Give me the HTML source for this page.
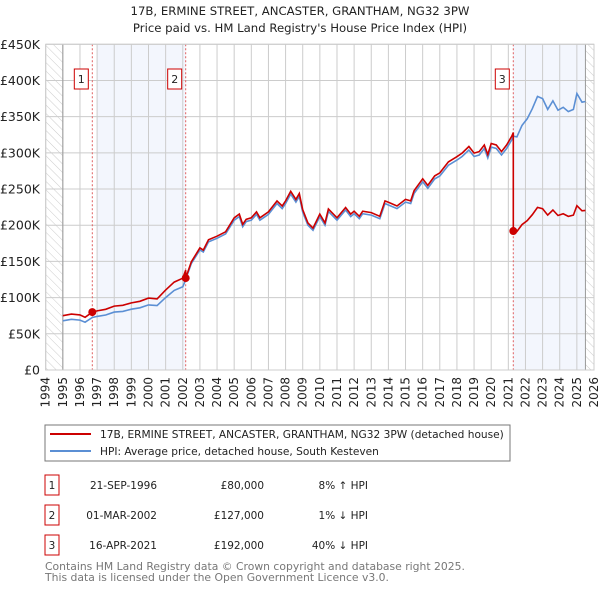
<!DOCTYPE html>
<html><head><meta charset="utf-8"><style>
body{margin:0;background:#fff;}
svg text{font-family:"DejaVu Sans","Liberation Sans",sans-serif;}
</style></head><body>
<svg id="c" width="600" height="590" xmlns="http://www.w3.org/2000/svg">
<defs><pattern id="hatch" width="6" height="6" patternUnits="userSpaceOnUse" patternTransform="rotate(-45)"><line x1="0" y1="0" x2="0" y2="6" stroke="#ccc" stroke-width="1"/></pattern></defs>
<text x="300" y="15" text-anchor="middle" font-size="11.7" fill="#222">17B, ERMINE STREET, ANCASTER, GRANTHAM, NG32 3PW</text>
<text x="300" y="32" text-anchor="middle" font-size="11.7" fill="#222">Price paid vs. HM Land Registry's House Price Index (HPI)</text>
<g id="plot"></g>
<rect x="45" y="425" width="465" height="36" fill="none" stroke="#777"/>
<line x1="50" y1="434" x2="91" y2="434" stroke="#cc0000" stroke-width="2"/>
<text x="100" y="438" font-size="10.6" fill="#222">17B, ERMINE STREET, ANCASTER, GRANTHAM, NG32 3PW (detached house)</text>
<line x1="50" y1="451" x2="91" y2="451" stroke="#5b8fd4" stroke-width="2"/>
<text x="100" y="455" font-size="10.6" fill="#222">HPI: Average price, detached house, South Kesteven</text>
<g id="table" font-size="10.5" fill="#222"></g>
<text x="45" y="570" font-size="10.8" fill="#777">Contains HM Land Registry data © Crown copyright and database right 2025.</text>
<text x="45" y="581" font-size="10.8" fill="#777">This data is licensed under the Open Government Licence v3.0.</text>
</svg>
<script>
const hpiYears=[1995,1995.5,1996,1996.3,1996.72,1997,1997.5,1998,1998.5,1999,1999.5,2000,2000.5,2001,2001.5,2002,2002.17,2002.5,2003,2003.2,2003.5,2004,2004.5,2005,2005.3,2005.5,2005.7,2006,2006.3,2006.5,2007,2007.5,2007.8,2008,2008.3,2008.6,2008.8,2009,2009.3,2009.6,2010,2010.3,2010.5,2011,2011.5,2011.8,2012,2012.3,2012.5,2013,2013.5,2013.8,2014,2014.5,2015,2015.3,2015.5,2016,2016.3,2016.7,2017,2017.5,2018,2018.3,2018.7,2019,2019.3,2019.6,2019.8,2020,2020.3,2020.6,2020.9,2021.2,2021.29,2021.5,2021.8,2022.1,2022.4,2022.7,2023,2023.3,2023.6,2023.9,2024.2,2024.5,2024.8,2025,2025.3,2025.5];
const hpiValues=[68000,70000,69000,66000,72500,74000,76000,80000,81000,84000,86000,90000,89000,100000,110000,115000,125000,147000,166000,163000,177000,182000,188000,207000,212000,198000,205000,207000,215000,207000,215000,230000,223000,230000,243000,232000,240000,218000,200000,193000,212000,200000,219000,207000,221000,212000,216000,209000,216000,214000,209000,230000,228000,223000,232000,230000,244000,260000,251000,264000,268000,283000,290000,295000,304000,295000,297000,306000,293000,308000,306000,297000,306000,318000,323000,322000,338000,347000,361000,378000,375000,360000,372000,359000,363000,357000,360000,382000,370000,371000];
const saleDates=[1996.72,2002.17,2021.29];
const salePrices=[80000,127000,192000];
const saleLabels=["1","2","3"];
const saleDateText=["21-SEP-1996","01-MAR-2002","16-APR-2021"];
const salePriceText=["£80,000","£127,000","£192,000"];
const saleHpiText=["8% ↑ HPI","1% ↓ HPI","40% ↓ HPI"];
const yTicks=[0,50000,100000,150000,200000,250000,300000,350000,400000,450000];
const yTickLabels=["£0","£50K","£100K","£150K","£200K","£250K","£300K","£350K","£400K","£450K"];
const xTicks=[1994,1995,1996,1997,1998,1999,2000,2001,2002,2003,2004,2005,2006,2007,2008,2009,2010,2011,2012,2013,2014,2015,2016,2017,2018,2019,2020,2021,2022,2023,2024,2025,2026];

const X0=45.7,X1=594,Y0=370,Y1=44.3;
const xs=t=>X0+(t-1994)/32*(X1-X0);
const ys=v=>Y0-v/450000*(Y0-Y1);
const NS="http://www.w3.org/2000/svg";
const plot=document.getElementById('plot');
function mk(tag,attrs,parent){const e=document.createElementNS(NS,tag);for(const k in attrs)e.setAttribute(k,attrs[k]);(parent||plot).appendChild(e);return e;}
function hpiAt(t){for(let i=0;i<hpiYears.length-1;i++){if(t>=hpiYears[i]&&t<=hpiYears[i+1]){const f=(t-hpiYears[i])/(hpiYears[i+1]-hpiYears[i]);return hpiValues[i]+f*(hpiValues[i+1]-hpiValues[i]);}}return hpiValues[hpiValues.length-1];}

let e=mk('rect',{x:X0,y:Y1,width:X1-X0,height:Y0-Y1,fill:'#fff'});

e=mk('rect',{x:X0,y:Y1,width:xs(1995)-X0,height:Y0-Y1,fill:'url(#hatch)'});

const lastT=hpiYears[hpiYears.length-1];
e=mk('rect',{x:xs(lastT),y:Y1,width:X1-xs(lastT),height:Y0-Y1,fill:'url(#hatch)'});

e=mk('rect',{x:xs(1997),y:Y1,width:xs(saleDates[1])-xs(1997),height:Y0-Y1,fill:'#f3f6fd'});

e=mk('rect',{x:xs(saleDates[2]),y:Y1,width:xs(lastT)-xs(saleDates[2]),height:Y0-Y1,fill:'#f3f6fd'});

xTicks.forEach((t,i)=>{
  const g=mk('line',{x1:xs(t),x2:xs(t),y1:Y1,y2:Y0,stroke:'#ccc','stroke-width':1});
  
  const tx=mk('text',{x:0,y:0,'font-size':12,fill:'#222','text-anchor':'end',transform:`translate(${xs(t)+4},377) rotate(-90)`});
  tx.textContent=t;
  
});
yTicks.forEach((v,i)=>{
  const g=mk('line',{x1:X0,x2:X1,y1:ys(v),y2:ys(v),stroke:'#ccc','stroke-width':1});
  
  const tx=mk('text',{x:40,y:ys(v)+4.5,'font-size':12.5,fill:'#222','text-anchor':'end'});
  tx.textContent=yTickLabels[i];
  
});
e=mk('line',{x1:xs(1995),x2:xs(1995),y1:Y1,y2:Y0,stroke:'#999'});

e=mk('line',{x1:xs(lastT),x2:xs(lastT),y1:Y1,y2:Y0,stroke:'#999'});

saleDates.forEach((t,i)=>{
  const l=mk('line',{x1:xs(t),x2:xs(t),y1:Y1,y2:Y0,stroke:'#e06060','stroke-dasharray':'2,2'});
  
  const r=mk('rect',{x:xs(t)-18,y:69,width:14,height:20,fill:'#fff',stroke:'#cc0000'});
  
  const tx=mk('text',{x:xs(t)-11,y:83,'font-size':11,fill:'#222','text-anchor':'middle'});
  tx.textContent=saleLabels[i];
  
});
let d=hpiYears.map((t,i)=>(i?'L':'M')+xs(t).toFixed(1)+','+ys(hpiValues[i]).toFixed(1)).join('');
e=mk('path',{d:d,fill:'none',stroke:'#5b8fd4','stroke-width':1.6});

const pts=[];
function ratioFor(t){let k=0;for(let i=0;i<saleDates.length;i++)if(t>=saleDates[i])k=i;return salePrices[k]/hpiAt(saleDates[k]);}
const times=[...hpiYears];
saleDates.forEach(s=>{if(!times.includes(s))times.push(s);});
times.sort((a,b)=>a-b);
times.forEach(t=>{
  const si=saleDates.indexOf(t);
  if(si>0){pts.push([t,hpiAt(t)*salePrices[si-1]/hpiAt(saleDates[si-1])]);}
  pts.push([t,hpiAt(t)*ratioFor(t)]);
});
d=pts.map((p,i)=>(i?'L':'M')+xs(p[0]).toFixed(1)+','+ys(p[1]).toFixed(1)).join('');
e=mk('path',{d:d,fill:'none',stroke:'#cc0000','stroke-width':1.6});

saleDates.forEach((t,i)=>{
  const c=mk('circle',{cx:xs(t),cy:ys(salePrices[i]),r:4,fill:'#cc0000'});
  
});
e=mk('rect',{x:X0,y:Y1,width:X1-X0,height:Y0-Y1,fill:'none',stroke:'#ccc'});

const tb=document.getElementById('table');
saleDates.forEach((t,i)=>{
  const y0=475+i*30;
  const r=mk('rect',{x:45,y:y0,width:14,height:20,fill:'none',stroke:'#cc0000'},tb);
  
  const a=mk('text',{x:52,y:y0+14,'text-anchor':'middle'},tb);a.textContent=saleLabels[i];
  
  const b=mk('text',{x:157,y:y0+14,'text-anchor':'end'},tb);b.textContent=saleDateText[i];
  
  const c=mk('text',{x:264,y:y0+14,'text-anchor':'end'},tb);c.textContent=salePriceText[i];
  
  const h=mk('text',{x:368,y:y0+14,'text-anchor':'end'},tb);h.textContent=saleHpiText[i];
  
});
</script>
</body></html>
